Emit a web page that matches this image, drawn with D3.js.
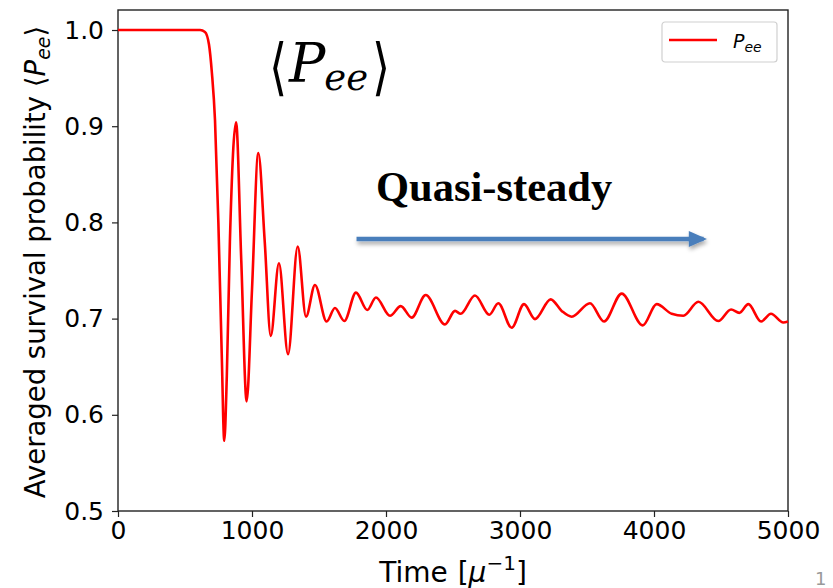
<!DOCTYPE html>
<html>
<head>
<meta charset="utf-8">
<script src="https://cdn.jsdelivr.net/npm/d3@7"></script>
<style>
	body { margin: 0; background: #fff; }
	svg { display: block; }
</style>
</head>
<body>
<div id="app"></div>
<script>
// time in mu^-1
const times = [0, 612, 649, 679, 701, 724, 749, 774, 793, 812, 835, 881, 920, 960, 1000, 1047, 1095, 1140,
	1201, 1269, 1341, 1403, 1470, 1557, 1619, 1689, 1776, 1860, 1925, 2030, 2110, 2192, 2296, 2440,
	2515, 2557, 2664, 2771, 2838, 2938, 3030, 3112, 3229, 3311, 3386, 3522, 3627, 3759, 3916, 4020,
	4132, 4219, 4331, 4480, 4575, 4637, 4704, 4799, 4873, 4965, 5000];
// averaged survival probability <Pee>
const pee = [1.0, 1.0, 0.998, 0.985, 0.955, 0.906, 0.80, 0.664, 0.573, 0.64, 0.78, 0.904, 0.76, 0.614, 0.73, 0.872, 0.78, 0.682,
	0.7575, 0.663, 0.775, 0.702, 0.735, 0.697, 0.711, 0.6975, 0.727, 0.709, 0.722, 0.703, 0.713, 0.701, 0.7245, 0.694,
	0.708, 0.705, 0.724, 0.704, 0.716, 0.6905, 0.715, 0.6995, 0.72, 0.708, 0.702, 0.716, 0.697, 0.726, 0.693, 0.715,
	0.705, 0.703, 0.7175, 0.6975, 0.7095, 0.706, 0.715, 0.697, 0.705, 0.696, 0.697];

const xTicks = [0, 1000, 2000, 3000, 4000, 5000];
const yTicks = [0.5, 0.6, 0.7, 0.8, 0.9, 1.0];

const chart = () => {

	const width = 833,
		height = 588,
		plot = { left: 118, right: 788, top: 10, bottom: 511 };

	const init = () => {

		const data = times.map((t, i) => ({ t, v: pee[i] }));

		const svg = d3.select('#app').append('svg')
			.attr('width', width)
			.attr('height', height);

		const xScale = d3.scaleLinear()
			.domain([0, 5000])
			.range([plot.left, plot.right]);

		const yScale = d3.scaleLinear()
			.domain([0.5, 1.0208])
			.range([plot.bottom, plot.top]);

		// drop shadow for the arrow
		const defs = svg.append('defs');
		const shadow = defs.append('filter')
			.attr('id', 'shadow')
			.attr('x', '-10%').attr('y', '-100%')
			.attr('width', '120%').attr('height', '300%');
		shadow.append('feDropShadow')
			.attr('dx', 1).attr('dy', 3)
			.attr('stdDeviation', 2)
			.attr('flood-color', '#000')
			.attr('flood-opacity', 0.35);

		const xAxis = d3.axisBottom(xScale)
			.tickValues(xTicks)
			.tickSize(6)
			.tickPadding(4)
			.tickFormat(d3.format('d'));
		svg.append('g')
			.classed('x axis', true)
			.attr('transform', `translate(0,${ plot.bottom })`)
			.call(xAxis);

		const yAxis = d3.axisLeft(yScale)
			.tickValues(yTicks)
			.tickSize(6)
			.tickPadding(8)
			.tickFormat(d3.format('.1f'));
		svg.append('g')
			.classed('y axis', true)
			.attr('transform', `translate(${ plot.left },0)`)
			.call(yAxis);

		svg.selectAll('.axis .domain').remove();
		svg.selectAll('.axis text')
			.attr('font-family', 'DejaVu Sans')
			.attr('font-size', 25)
			.attr('fill', '#000');
		svg.selectAll('.axis line')
			.attr('stroke', '#222')
			.attr('stroke-width', 1.2);

		// frame
		svg.append('rect')
			.attr('x', plot.left)
			.attr('y', plot.top)
			.attr('width', plot.right - plot.left)
			.attr('height', plot.bottom - plot.top)
			.attr('fill', 'none')
			.attr('stroke', '#222')
			.attr('stroke-width', 1.4);

		const line = d3.line()
			.x(d => xScale(d.t))
			.y(d => yScale(d.v))
			.curve(d3.curveMonotoneX);

		svg.append('path')
			.datum(data)
			.attr('d', line)
			.attr('fill', 'none')
			.attr('stroke', '#ff0000')
			.attr('stroke-width', 2.6)
			.attr('stroke-linejoin', 'round');

		// axis labels
		const yLabel = svg.append('text')
			.attr('transform', `translate(45,262) rotate(-90)`)
			.attr('text-anchor', 'middle')
			.attr('font-family', 'DejaVu Sans')
			.attr('font-size', 27.5);
		yLabel.append('tspan').text('Averaged survival probability \u27E8');
		yLabel.append('tspan').attr('font-style', 'italic').text('P');
		yLabel.append('tspan').attr('font-style', 'italic').attr('font-size', 19).attr('dy', 5).text('ee');
		yLabel.append('tspan').attr('dy', -5).text('\u27E9');

		const xLabel = svg.append('text')
			.attr('x', (plot.left + plot.right) / 2)
			.attr('y', 582)
			.attr('text-anchor', 'middle')
			.attr('font-family', 'DejaVu Sans')
			.attr('font-size', 28);
		xLabel.append('tspan').text('Time');
		xLabel.append('tspan').attr('dx', 10).text('[');
		xLabel.append('tspan').attr('font-style', 'italic').text('\u03BC');
		xLabel.append('tspan').attr('font-size', 20).attr('dy', -12).text('\u22121');
		xLabel.append('tspan').attr('dy', 12).text(']');

		// <Pee> annotation
		svg.append('text')
			.attr('transform', 'translate(269,88) scale(0.75,1)')
			.attr('font-family', 'DejaVu Sans')
			.attr('font-weight', 200)
			.attr('font-size', 62)
			.text('\u27E8');
		const big = svg.append('text')
			.attr('x', 289)
			.attr('y', 82)
			.attr('font-family', 'DejaVu Serif')
			.attr('font-style', 'italic')
			.attr('font-size', 54);
		big.append('tspan').text('P');
		big.append('tspan').attr('font-size', 37).attr('dx', -1).attr('dy', 8).text('ee');
		svg.append('text')
			.attr('transform', 'translate(372,88) scale(0.75,1)')
			.attr('font-family', 'DejaVu Sans')
			.attr('font-weight', 200)
			.attr('font-size', 62)
			.text('\u27E9');

		svg.append('text')
			.attr('x', 376)
			.attr('y', 201)
			.attr('font-family', 'Liberation Serif')
			.attr('font-weight', 'bold')
			.attr('font-size', 42.5)
			.text('Quasi-steady');

		// arrow
		const arrow = svg.append('g').attr('filter', 'url(#shadow)');
		arrow.append('line')
			.attr('x1', xScale(1780)).attr('x2', xScale(4370))
			.attr('y1', 239).attr('y2', 239)
			.attr('stroke', '#4a7ebb')
			.attr('stroke-width', 4.5);
		arrow.append('path')
			.attr('d', `M${ xScale(4260) },231 L${ xScale(4395) },239 L${ xScale(4260) },247 Z`)
			.attr('fill', '#4a7ebb');

		// legend
		const legend = svg.append('g').attr('transform', 'translate(662,22)');
		legend.append('rect')
			.attr('width', 115)
			.attr('height', 40)
			.attr('rx', 3)
			.attr('fill', '#fff')
			.attr('stroke', '#d0d0d0')
			.attr('stroke-width', 1.2);
		legend.append('line')
			.attr('x1', 7).attr('x2', 55)
			.attr('y1', 18).attr('y2', 18)
			.attr('stroke', '#ff0000')
			.attr('stroke-width', 2.4);
		const lt = legend.append('text')
			.attr('x', 71)
			.attr('y', 26)
			.attr('font-family', 'DejaVu Sans')
			.attr('font-style', 'italic')
			.attr('font-size', 19);
		lt.append('tspan').text('P');
		lt.append('tspan').attr('font-size', 14).attr('dy', 4).text('ee');

		// page number at the corner
		svg.append('text')
			.attr('x', 815)
			.attr('y', 585)
			.attr('font-family', 'DejaVu Sans')
			.attr('font-size', 18)
			.attr('fill', '#999')
			.text('1');

	};

	return { init };
};

chart().init();
</script>
</body>
</html>
